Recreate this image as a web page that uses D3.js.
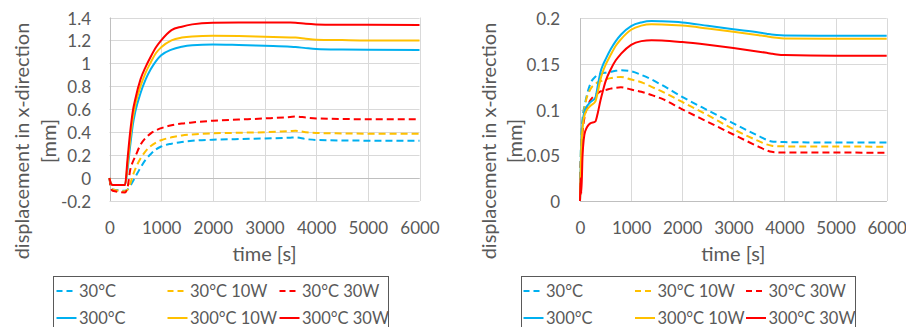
<!DOCTYPE html>
<html><head><meta charset="utf-8">
<script src="https://cdn.jsdelivr.net/npm/d3@7"></script>
<style>
body{margin:0;background:#fff;}
svg{display:block;font-family:Lato,"Open Sans",sans-serif;}
</style></head>
<body><svg id="c" width="906" height="327"></svg>
<script>
// ---------- DATA ----------
const seriesNames = ["30°C","30°C 10W","30°C 30W","300°C","300°C 10W","300°C 30W"];
const seriesColors = ["#00b0f0","#ffc000","#ff0000","#00b0f0","#ffc000","#ff0000"];
const seriesDashed = [true,true,true,false,false,false];

const xTicks = [0,1000,2000,3000,4000,5000,6000];
const leftYTicks = [-0.2,0,0.2,0.4,0.6,0.8,1,1.2,1.4];
const leftYTickLabels = ["-0.2","0","0.2","0.4","0.6","0.8","1","1.2","1.4"];
const rightYTicks = [0,0.05,0.1,0.15,0.2];
const rightYTickLabels = ["0","0.05","0.1","0.15","0.2"];

// Left chart
const leftTime = [0,30,60,300,350,400,450,500,600,700,800,900,1000,1200,1400,1600,2000,2500,3000,3500,3600,3800,4000,4500,5000,6000];
const left30 =      [0,-0.08,-0.1,-0.11,-0.1,-0.07,-0.03,0.01,0.09,0.16,0.21,0.25,0.275,0.3,0.315,0.325,0.334,0.34,0.345,0.352,0.354,0.34,0.332,0.328,0.326,0.325];
const left30_10W =  [0,-0.08,-0.1,-0.115,-0.1,-0.05,0.02,0.08,0.17,0.235,0.28,0.31,0.33,0.355,0.372,0.38,0.39,0.395,0.4,0.41,0.412,0.4,0.393,0.389,0.387,0.386];
const left30_30W =  [0,-0.09,-0.11,-0.125,-0.08,0.07,0.14,0.19,0.29,0.35,0.39,0.415,0.435,0.46,0.475,0.485,0.5,0.51,0.52,0.533,0.537,0.528,0.52,0.515,0.513,0.512];
const left300 =     [0,-0.05,-0.06,-0.06,0.08,0.28,0.46,0.58,0.74,0.86,0.95,1.02,1.07,1.12,1.145,1.158,1.165,1.16,1.153,1.146,1.143,1.133,1.125,1.12,1.118,1.117];
const left300_10W = [0,-0.05,-0.06,-0.06,0.12,0.34,0.52,0.64,0.8,0.92,1.01,1.09,1.14,1.2,1.225,1.235,1.24,1.238,1.232,1.226,1.225,1.215,1.207,1.203,1.2,1.2];
const left300_30W = [0,-0.05,-0.06,-0.06,0.17,0.4,0.58,0.69,0.86,0.97,1.06,1.14,1.2,1.29,1.32,1.34,1.355,1.357,1.357,1.357,1.355,1.345,1.34,1.337,1.336,1.335];

// Right chart
const rightTime = [0,10,25,50,100,200,300,350,400,450,500,600,700,800,1000,1200,1400,1600,2000,2500,3000,3500,3650,3750,3850,4000,5000,6000];
const right30 =      [0,0.04,0.07,0.09,0.107,0.128,0.136,0.138,0.139,0.14,0.1405,0.1415,0.1425,0.143,0.142,0.138,0.133,0.127,0.114,0.0993,0.085,0.071,0.067,0.0652,0.0648,0.0645,0.064,0.064];
const right30_10W =  [0,0.035,0.065,0.085,0.105,0.122,0.128,0.13,0.131,0.132,0.133,0.1345,0.1355,0.1358,0.133,0.13,0.125,0.12,0.1084,0.0939,0.0786,0.0655,0.062,0.0605,0.06,0.0598,0.0596,0.0595];
const right30_30W =  [0,0.03,0.055,0.075,0.095,0.11,0.116,0.118,0.12,0.121,0.1215,0.123,0.124,0.1245,0.122,0.1195,0.116,0.112,0.1004,0.0866,0.0728,0.0593,0.0555,0.0538,0.0533,0.0531,0.053,0.0529];
const right300 =     [0,0.03,0.06,0.085,0.1,0.108,0.113,0.127,0.141,0.149,0.155,0.166,0.175,0.182,0.1915,0.1955,0.197,0.1967,0.1955,0.1918,0.188,0.1845,0.1832,0.1823,0.1817,0.1813,0.181,0.181];
const right300_10W = [0,0.025,0.055,0.08,0.096,0.104,0.109,0.12,0.133,0.142,0.149,0.16,0.17,0.177,0.1875,0.192,0.1935,0.1933,0.192,0.1888,0.1853,0.1815,0.1803,0.1793,0.1786,0.178,0.1775,0.1775];
const right300_30W = [0,0.025,0.008,0.05,0.076,0.085,0.087,0.097,0.11,0.121,0.131,0.144,0.154,0.161,0.171,0.175,0.176,0.1757,0.174,0.171,0.1675,0.1635,0.1622,0.1613,0.1605,0.1598,0.159,0.159];

const xTitle = "time [s]";
const yTitle1 = "displacement in x-direction";
const yTitle2 = "[mm]";

// ---------- DRAW ----------
const svg = d3.select("#c");
const textColor = "#595959";

function drawChart(cfg){
  const g = svg.append("g");
  const x = d3.scaleLinear().domain([0,6000]).range([cfg.x0,cfg.x1]);
  const y = d3.scaleLinear().domain(cfg.yDomain).range([cfg.yBottom,cfg.yTop]);

  // gridlines
  g.append("g").selectAll("line").data(cfg.yTicks).join("line")
    .attr("x1",cfg.x0).attr("x2",cfg.x1)
    .attr("y1",d=>Math.round(y(d))+0.5).attr("y2",d=>Math.round(y(d))+0.5)
    .attr("stroke",d=>d===0?"#bfbfbf":"#d9d9d9").attr("stroke-width",1);
  g.append("g").selectAll("line").data(xTicks).join("line")
    .attr("y1",cfg.yTop).attr("y2",cfg.yBottom)
    .attr("x1",d=>Math.round(x(d))+0.5).attr("x2",d=>Math.round(x(d))+0.5)
    .attr("stroke",d=>d===0?"#bfbfbf":"#d9d9d9").attr("stroke-width",1);
  // zero axis line on top
  g.append("line").attr("x1",cfg.x0).attr("x2",cfg.x1)
    .attr("y1",Math.round(y(0))+0.5).attr("y2",Math.round(y(0))+0.5)
    .attr("stroke","#bfbfbf");

  // axes (labels only, via d3 axis)
  const ax = d3.axisBottom(x).tickValues(xTicks).tickSize(0).tickPadding(0).tickFormat(d3.format("d"));
  const axg = g.append("g").attr("transform",`translate(0,${cfg.xLabelY})`).call(ax);
  axg.select(".domain").remove();
  axg.selectAll("text").attr("fill",textColor).attr("font-size",17).attr("dy",null)
     .attr("dominant-baseline","central").attr("y",0).attr("font-family","Lato");

  const ay = d3.axisLeft(y).tickValues(cfg.yTicks).tickSize(0).tickPadding(0)
     .tickFormat((d,i)=>cfg.yTickLabels[i]);
  const ayg = g.append("g").attr("transform",`translate(${cfg.yLabelX},0)`).call(ay);
  ayg.select(".domain").remove();
  ayg.selectAll("text").attr("fill",textColor).attr("font-size",17).attr("dy",null)
     .attr("dominant-baseline","central").attr("x",0).attr("font-family","Lato");

  // lines
  const line = d3.line().x(d=>x(d[0])).y(d=>y(d[1])).curve(d3.curveMonotoneX);
  cfg.series.forEach((vals,i)=>{
    const pts = cfg.time.map((t,j)=>[t,vals[j]]);
    g.append("path").attr("d",line(pts)).attr("fill","none")
      .attr("stroke",seriesColors[i]).attr("stroke-width",2)
      .attr("stroke-dasharray",seriesDashed[i]?"7,4":null)
      .attr("stroke-linejoin","round");
  });

  // titles
  g.append("text").attr("x",(cfg.x0+cfg.x1)/2).attr("y",253)
    .attr("text-anchor","middle").attr("dominant-baseline","central")
    .attr("fill",textColor).attr("font-size",20).text(xTitle);
  g.append("text").attr("transform",`translate(${cfg.yt1},141) rotate(-90)`)
    .attr("text-anchor","middle").attr("dominant-baseline","central")
    .attr("fill",textColor).attr("font-size",20).text(yTitle1);
  g.append("text").attr("transform",`translate(${cfg.yt2},141) rotate(-90)`)
    .attr("text-anchor","middle").attr("dominant-baseline","central")
    .attr("fill",textColor).attr("font-size",20).text(yTitle2);

  // legend
  const lg = g.append("g");
  lg.append("rect").attr("x",cfg.legX+0.5).attr("y",276.5).attr("width",cfg.legW).attr("height",60)
    .attr("fill","#fff").attr("stroke","#595959").attr("stroke-width",1);
  const colX = cfg.legCols;
  seriesNames.forEach((name,i)=>{
    const col = i%3, row = Math.floor(i/3);
    const sx = colX[col], yy = row===0?291:318;
    lg.append("line").attr("x1",sx).attr("x2",sx+20).attr("y1",yy).attr("y2",yy)
      .attr("stroke",seriesColors[i]).attr("stroke-width",2)
      .attr("stroke-dasharray",seriesDashed[i]?"6,4":null);
    lg.append("text").attr("x",sx+22.5).attr("y",yy).attr("dominant-baseline","central")
      .attr("fill",textColor).attr("font-size",16.5).text(name);
  });
}

drawChart({
  x0:109.5,x1:419.5,yTop:17.5,yBottom:201,yDomain:[-0.2,1.4],
  yTicks:leftYTicks,yTickLabels:leftYTickLabels,xLabelY:227,yLabelX:91,
  time:leftTime,series:[left30,left30_10W,left30_30W,left300,left300_10W,left300_30W],
  yt1:21,yt2:48,legX:53,legW:335,legCols:[56.5,167.5,279.5]
});
drawChart({
  x0:580,x1:886.7,yTop:18.3,yBottom:201,yDomain:[0,0.2],
  yTicks:rightYTicks,yTickLabels:rightYTickLabels,xLabelY:227,yLabelX:560,
  time:rightTime,series:[right30,right30_10W,right30_30W,right300,right300_10W,right300_30W],
  yt1:488,yt2:514,legX:521,legW:334,legCols:[523.5,635,746]
});
</script></body></html>
